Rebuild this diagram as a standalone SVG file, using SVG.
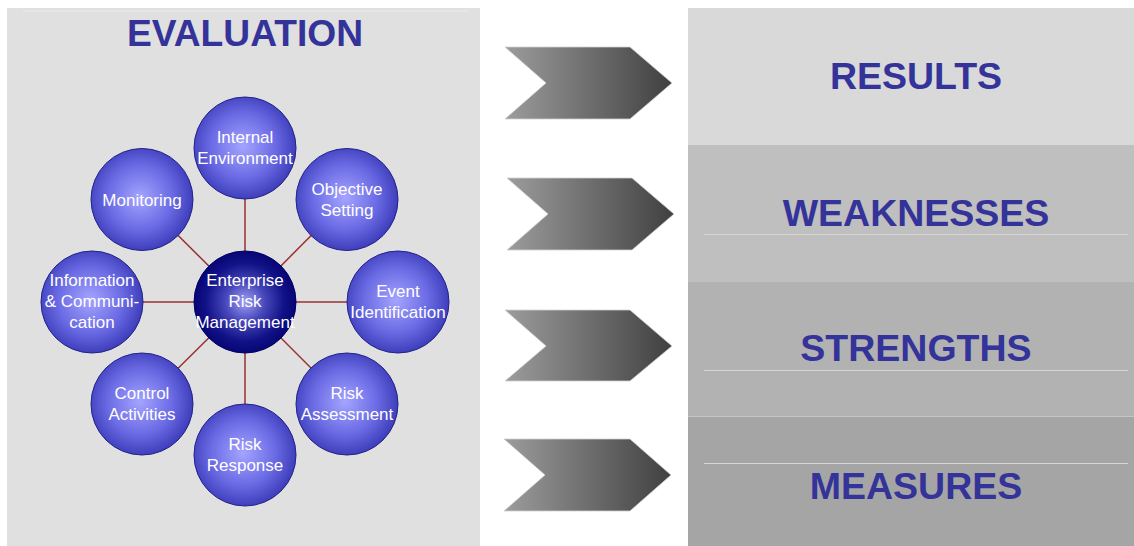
<svg xmlns="http://www.w3.org/2000/svg" width="1134" height="546" viewBox="0 0 1134 546">
<defs>
<radialGradient id="gBall" cx="0.48" cy="0.48" r="0.58">
<stop offset="0" stop-color="#a4a4ff"/>
<stop offset="0.55" stop-color="#6a6ae4"/>
<stop offset="1" stop-color="#3232b0"/>
</radialGradient>
<radialGradient id="gCore" cx="0.5" cy="0.5" r="0.55">
<stop offset="0" stop-color="#a0a0f4"/>
<stop offset="0.35" stop-color="#4848bc"/>
<stop offset="0.7" stop-color="#121288"/>
<stop offset="1" stop-color="#00006c"/>
</radialGradient>
<linearGradient id="gArrow" x1="0" y1="0" x2="1" y2="0">
<stop offset="0" stop-color="#9c9c9c"/>
<stop offset="1" stop-color="#404040"/>
</linearGradient>
</defs>
<style>
.ball{fill:url(#gBall);stroke:#22228a;stroke-width:1}
.core{fill:url(#gCore);stroke:#000066;stroke-width:1}
.lbl{font-family:"Liberation Sans",Arial,sans-serif;font-size:17px;fill:#ffffff;text-anchor:middle}
.head{font-family:"Liberation Sans",Arial,sans-serif;font-weight:bold;font-size:37.5px;fill:#333399;text-anchor:middle}
.link{stroke:#9a3030;stroke-width:1.5}
.chev{fill:url(#gArrow);stroke:#d0d0d0;stroke-width:0.8}
.sep{stroke:#d6d6d6;stroke-width:1}
</style>
<rect width="1134" height="546" fill="#ffffff"/>
<g id="evaluation-panel">
<rect x="7" y="8" width="473" height="538" fill="#e0e0e0"/>
<line x1="23" y1="11" x2="468" y2="11" stroke="#ececec" stroke-width="1"/>
<text class="head" x="245" y="46" style="font-size:37.2px">EVALUATION</text>
</g>
<g id="connectors">
<line class="link" x1="245" y1="302" x2="245" y2="148"/>
<line class="link" x1="245" y1="302" x2="347" y2="199.5"/>
<line class="link" x1="245" y1="302" x2="398" y2="302"/>
<line class="link" x1="245" y1="302" x2="347" y2="404"/>
<line class="link" x1="245" y1="302" x2="245" y2="455"/>
<line class="link" x1="245" y1="302" x2="142" y2="404"/>
<line class="link" x1="245" y1="302" x2="92" y2="302"/>
<line class="link" x1="245" y1="302" x2="142" y2="199.5"/>
</g>
<g id="internal-environment">
<circle class="ball" cx="245" cy="148" r="51"/>
<text class="lbl" x="245" y="142.5">Internal</text>
<text class="lbl" x="245" y="163.5">Environment</text>
</g>
<g id="objective-setting">
<circle class="ball" cx="347" cy="199.5" r="51"/>
<text class="lbl" x="347" y="194.5">Objective</text>
<text class="lbl" x="347" y="215.5">Setting</text>
</g>
<g id="event-identification">
<circle class="ball" cx="398" cy="302" r="51"/>
<text class="lbl" x="398" y="296.5">Event</text>
<text class="lbl" x="398" y="317.5">Identification</text>
</g>
<g id="risk-assessment">
<circle class="ball" cx="347" cy="404" r="51"/>
<text class="lbl" x="347" y="398.5">Risk</text>
<text class="lbl" x="347" y="419.5">Assessment</text>
</g>
<g id="risk-response">
<circle class="ball" cx="245" cy="455" r="51"/>
<text class="lbl" x="245" y="449.5">Risk</text>
<text class="lbl" x="245" y="470.5">Response</text>
</g>
<g id="control-activities">
<circle class="ball" cx="142" cy="404" r="51"/>
<text class="lbl" x="142" y="398.5">Control</text>
<text class="lbl" x="142" y="419.5">Activities</text>
</g>
<g id="information-communication">
<circle class="ball" cx="92" cy="302" r="51"/>
<text class="lbl" x="92" y="286">Information</text>
<text class="lbl" x="92" y="307">&amp; Communi-</text>
<text class="lbl" x="92" y="328">cation</text>
</g>
<g id="monitoring">
<circle class="ball" cx="142" cy="199.5" r="51"/>
<text class="lbl" x="142" y="205.5">Monitoring</text>
</g>
<g id="enterprise-risk-management">
<circle class="core" cx="245" cy="302" r="51"/>
<text class="lbl" x="245" y="286">Enterprise</text>
<text class="lbl" x="245" y="307">Risk</text>
<text class="lbl" x="245" y="328">Management</text>
</g>
<g id="arrows">
<polygon class="chev" points="505,47 630,47 672,83 630,119 505,119 546,83"/>
<polygon class="chev" points="507,178 632,178 674,214 632,250 507,250 548,214"/>
<polygon class="chev" points="505,310 630,310 672,346 630,381 505,381 546,346"/>
<polygon class="chev" points="504,439 630,439 671,475 630,511 504,511 545,475"/>
</g>
<g id="results">
<rect x="688" y="8" width="446" height="137" fill="#d9d9d9"/>
<text class="head" x="916" y="89">RESULTS</text>
</g>
<g id="weaknesses">
<rect x="688" y="145" width="446" height="137" fill="#bfbfbf"/>
<line class="sep" x1="704" y1="234.5" x2="1128" y2="234.5"/>
<text class="head" x="916" y="226">WEAKNESSES</text>
</g>
<g id="strengths">
<rect x="688" y="282" width="446" height="134" fill="#b2b2b2"/>
<line class="sep" x1="704" y1="370.5" x2="1128" y2="370.5"/>
<text class="head" x="916" y="361">STRENGTHS</text>
</g>
<g id="measures">
<rect x="688" y="416" width="446" height="130" fill="#a5a5a5"/>
<line x1="688" y1="416.5" x2="1134" y2="416.5" stroke="#c4c4c4" stroke-width="1"/>
<line class="sep" x1="704" y1="463.5" x2="1128" y2="463.5"/>
<text class="head" x="916" y="499">MEASURES</text>
</g>
</svg>
